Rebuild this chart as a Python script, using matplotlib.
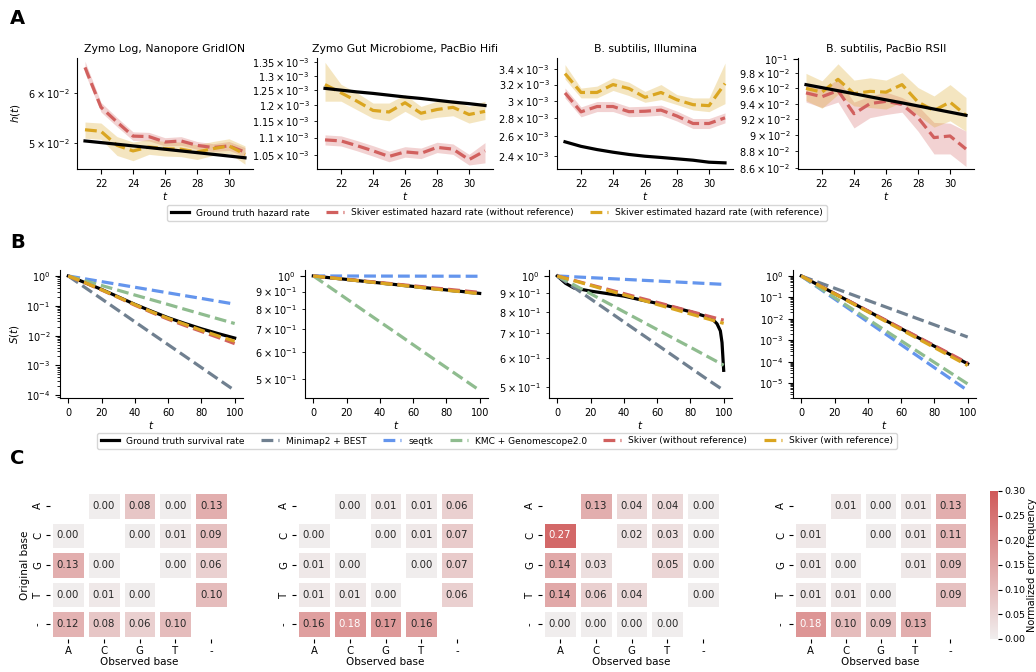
import numpy as np
import matplotlib
matplotlib.use("Agg")
import matplotlib.pyplot as plt
from matplotlib.colors import LinearSegmentedColormap, Normalize
from matplotlib.cm import ScalarMappable
import matplotlib.ticker as mticker

# ---------------- data: row A (hazard rates) ----------------
t_h = [21, 22, 23, 24, 25, 26, 27, 28, 29, 30, 31]
hazard_titles = ["Zymo Log, Nanopore GridION", "Zymo Gut Microbiome, PacBio Hifi",
                 "B. subtilis, Illumina", "B. subtilis, PacBio RSII"]

zlog_gt = [5.04e-2, 5.01e-2, 4.98e-2, 4.95e-2, 4.92e-2, 4.89e-2, 4.86e-2, 4.83e-2, 4.80e-2, 4.77e-2, 4.74e-2]
zlog_red = [6.59e-2, 5.70e-2, 5.40e-2, 5.13e-2, 5.12e-2, 5.02e-2, 5.04e-2, 4.96e-2, 4.92e-2, 4.95e-2, 4.84e-2]
zlog_red_lo = [6.45e-2, 5.60e-2, 5.31e-2, 5.05e-2, 5.04e-2, 4.95e-2, 4.96e-2, 4.89e-2, 4.85e-2, 4.87e-2, 4.76e-2]
zlog_red_hi = [6.74e-2, 5.80e-2, 5.49e-2, 5.21e-2, 5.20e-2, 5.10e-2, 5.12e-2, 5.03e-2, 4.99e-2, 5.03e-2, 4.92e-2]
zlog_yel = [5.25e-2, 5.22e-2, 4.96e-2, 4.86e-2, 4.93e-2, 4.90e-2, 4.89e-2, 4.84e-2, 4.90e-2, 4.95e-2, 4.80e-2]
zlog_yel_lo = [5.09e-2, 5.07e-2, 4.78e-2, 4.69e-2, 4.80e-2, 4.77e-2, 4.76e-2, 4.71e-2, 4.78e-2, 4.82e-2, 4.63e-2]
zlog_yel_hi = [5.40e-2, 5.38e-2, 5.12e-2, 5.02e-2, 5.07e-2, 5.03e-2, 5.02e-2, 4.97e-2, 5.03e-2, 5.08e-2, 4.95e-2]

zgut_gt = [1.257e-3, 1.251e-3, 1.245e-3, 1.240e-3, 1.234e-3, 1.228e-3, 1.223e-3, 1.217e-3, 1.211e-3, 1.206e-3, 1.200e-3]
zgut_red = [1.093e-3, 1.090e-3, 1.076e-3, 1.061e-3, 1.045e-3, 1.058e-3, 1.054e-3, 1.071e-3, 1.066e-3, 1.036e-3, 1.061e-3]
zgut_red_lo = [1.078e-3, 1.075e-3, 1.061e-3, 1.046e-3, 1.030e-3, 1.043e-3, 1.039e-3, 1.056e-3, 1.051e-3, 1.021e-3, 1.027e-3]
zgut_red_hi = [1.108e-3, 1.105e-3, 1.091e-3, 1.076e-3, 1.060e-3, 1.073e-3, 1.069e-3, 1.086e-3, 1.081e-3, 1.051e-3, 1.085e-3]
zgut_yel = [1.270e-3, 1.242e-3, 1.214e-3, 1.184e-3, 1.179e-3, 1.209e-3, 1.175e-3, 1.187e-3, 1.194e-3, 1.171e-3, 1.181e-3]
zgut_yel_lo = [1.214e-3, 1.214e-3, 1.186e-3, 1.159e-3, 1.151e-3, 1.181e-3, 1.153e-3, 1.162e-3, 1.167e-3, 1.144e-3, 1.155e-3]
zgut_yel_hi = [1.349e-3, 1.271e-3, 1.242e-3, 1.208e-3, 1.208e-3, 1.236e-3, 1.197e-3, 1.214e-3, 1.219e-3, 1.197e-3, 1.214e-3]

bsi_gt = [2.543e-3, 2.497e-3, 2.465e-3, 2.439e-3, 2.417e-3, 2.400e-3, 2.388e-3, 2.375e-3, 2.362e-3, 2.343e-3, 2.337e-3]
bsi_red = [3.094e-3, 2.868e-3, 2.930e-3, 2.930e-3, 2.870e-3, 2.875e-3, 2.888e-3, 2.820e-3, 2.737e-3, 2.737e-3, 2.800e-3]
bsi_red_lo = [3.032e-3, 2.811e-3, 2.871e-3, 2.871e-3, 2.813e-3, 2.818e-3, 2.830e-3, 2.764e-3, 2.682e-3, 2.682e-3, 2.744e-3]
bsi_red_hi = [3.156e-3, 2.925e-3, 2.989e-3, 2.989e-3, 2.927e-3, 2.933e-3, 2.946e-3, 2.876e-3, 2.792e-3, 2.792e-3, 2.856e-3]
bsi_yel = [3.344e-3, 3.100e-3, 3.100e-3, 3.200e-3, 3.149e-3, 3.040e-3, 3.100e-3, 3.010e-3, 2.952e-3, 2.940e-3, 3.213e-3]
bsi_yel_lo = [3.270e-3, 3.033e-3, 3.033e-3, 3.125e-3, 3.061e-3, 2.980e-3, 3.012e-3, 2.952e-3, 2.890e-3, 2.870e-3, 2.964e-3]
bsi_yel_hi = [3.467e-3, 3.155e-3, 3.180e-3, 3.288e-3, 3.230e-3, 3.113e-3, 3.200e-3, 3.073e-3, 3.033e-3, 3.033e-3, 3.488e-3]

bsp_gt = [9.649e-2, 9.609e-2, 9.569e-2, 9.529e-2, 9.489e-2, 9.449e-2, 9.410e-2, 9.370e-2, 9.330e-2, 9.290e-2, 9.250e-2]
bsp_red = [9.54e-2, 9.49e-2, 9.57e-2, 9.27e-2, 9.40e-2, 9.43e-2, 9.39e-2, 9.22e-2, 8.97e-2, 8.99e-2, 8.83e-2]
bsp_red_lo = [9.42e-2, 9.35e-2, 9.42e-2, 9.09e-2, 9.22e-2, 9.26e-2, 9.29e-2, 9.05e-2, 8.77e-2, 8.77e-2, 8.62e-2]
bsp_red_hi = [9.64e-2, 9.59e-2, 9.72e-2, 9.42e-2, 9.50e-2, 9.55e-2, 9.48e-2, 9.37e-2, 9.16e-2, 9.15e-2, 9.05e-2]
bsp_yel = [9.60e-2, 9.55e-2, 9.72e-2, 9.53e-2, 9.56e-2, 9.55e-2, 9.65e-2, 9.42e-2, 9.31e-2, 9.42e-2, 9.25e-2]
bsp_yel_lo = [9.44e-2, 9.34e-2, 9.52e-2, 9.37e-2, 9.35e-2, 9.33e-2, 9.42e-2, 9.25e-2, 9.10e-2, 9.18e-2, 9.05e-2]
bsp_yel_hi = [9.80e-2, 9.70e-2, 9.93e-2, 9.71e-2, 9.74e-2, 9.71e-2, 9.81e-2, 9.61e-2, 9.50e-2, 9.65e-2, 9.48e-2]

hazard_ylims = [(4.55e-2, 6.82e-2), (1.01e-3, 1.365e-3), (2.28e-3, 3.56e-3), (8.59e-2, 1.001e-1)]

# ---------------- data: row B (survival) ----------------
t_s = [0, 10, 20, 30, 40, 50, 60, 70, 80, 90, 100]

s1_gt = [1, 0.603, 0.355, 0.200, 0.112, 0.066, 0.0398, 0.0257, 0.0170, 0.0117, 0.0083]
s1_minimap = [1, 0.413, 0.171, 0.0705, 0.0291, 0.0120, 4.98e-3, 2.06e-3, 8.5e-4, 3.5e-4, 1.45e-4]
s1_seqtk = [1, 0.805, 0.648, 0.522, 0.420, 0.338, 0.272, 0.219, 0.177, 0.142, 0.114]
s1_kmc = [1, 0.693, 0.480, 0.333, 0.230, 0.160, 0.111, 0.0765, 0.053, 0.0367, 0.0255]
s1_red = [1, 0.589, 0.339, 0.191, 0.105, 0.0603, 0.0355, 0.0219, 0.0138, 0.0087, 0.0054]
s1_yel = [1, 0.603, 0.347, 0.195, 0.110, 0.0631, 0.038, 0.024, 0.0151, 0.0098, 0.0065]

s2_gt = [1, 0.988, 0.977, 0.965, 0.954, 0.943, 0.932, 0.921, 0.910, 0.900, 0.889]
s2_minimap = [1, 0.988, 0.976, 0.965, 0.953, 0.942, 0.931, 0.920, 0.909, 0.898, 0.888]
s2_seqtk = [1, 0.9998, 0.9996, 0.9994, 0.9992, 0.999, 0.9988, 0.9986, 0.9984, 0.9982, 0.998]
s2_kmc = [1, 0.926, 0.857, 0.793, 0.734, 0.680, 0.629, 0.582, 0.539, 0.499, 0.462]
s2_red = [1, 0.989, 0.978, 0.967, 0.957, 0.946, 0.936, 0.925, 0.915, 0.905, 0.895]
s2_yel = [1, 0.988, 0.976, 0.965, 0.953, 0.942, 0.931, 0.919, 0.908, 0.898, 0.887]

t_s3_gt = [0, 5, 10, 20, 30, 40, 50, 60, 70, 80, 90, 94, 96, 98, 99, 100]
s3_gt = [1, 0.955, 0.928, 0.91, 0.896, 0.882, 0.862, 0.843, 0.822, 0.80, 0.775, 0.758, 0.742, 0.71, 0.66, 0.555]
s3_minimap = [1, 0.931, 0.867, 0.807, 0.751, 0.699, 0.651, 0.606, 0.564, 0.525, 0.49]
s3_seqtk = [1, 0.9948, 0.9896, 0.9844, 0.9793, 0.9742, 0.9691, 0.964, 0.959, 0.954, 0.949]
s3_kmc = [1, 0.946, 0.895, 0.846, 0.800, 0.757, 0.716, 0.677, 0.641, 0.606, 0.573]
s3_red = [1, 0.973, 0.946, 0.921, 0.896, 0.871, 0.848, 0.825, 0.802, 0.780, 0.759]
s3_yel = [1, 0.971, 0.943, 0.915, 0.889, 0.863, 0.837, 0.813, 0.789, 0.766, 0.744]

s4_gt = [1, 0.389, 0.151, 0.0589, 0.0229, 8.91e-3, 3.47e-3, 1.35e-3, 5.25e-4, 2.04e-4, 7.94e-5]
s4_minimap = [1, 0.519, 0.269, 0.140, 0.0724, 0.0376, 0.0195, 0.0101, 5.25e-3, 2.72e-3, 1.41e-3]
s4_seqtk = [1, 0.292, 0.0851, 0.0248, 7.24e-3, 2.11e-3, 6.17e-4, 1.8e-4, 5.25e-5, 1.53e-5, 4.47e-6]
s4_kmc = [1, 0.313, 0.098, 0.0307, 9.6e-3, 3.0e-3, 9.4e-4, 2.95e-4, 9.2e-5, 2.9e-5, 9.1e-6]
s4_red = [1, 0.392, 0.154, 0.0603, 0.0237, 9.29e-3, 3.63e-3, 1.43e-3, 5.6e-4, 2.2e-4, 8.5e-5]
s4_yel = [1, 0.382, 0.146, 0.0557, 0.0213, 8.13e-3, 3.11e-3, 1.19e-3, 4.53e-4, 1.73e-4, 6.6e-5]

surv_ylims = [(8.1e-5, 1.59), (0.439, 1.041), (0.467, 1.038), (2.0e-6, 1.91)]

# ---------------- data: row C (error matrices) ----------------
bases = ["A", "C", "G", "T", "-"]
nan = np.nan
err_zymo_log = [[nan, 0.00, 0.08, 0.00, 0.13],
                [0.00, nan, 0.00, 0.01, 0.09],
                [0.13, 0.00, nan, 0.00, 0.06],
                [0.00, 0.01, 0.00, nan, 0.10],
                [0.12, 0.08, 0.06, 0.10, nan]]
err_zymo_gut = [[nan, 0.00, 0.01, 0.01, 0.06],
                [0.00, nan, 0.00, 0.01, 0.07],
                [0.01, 0.00, nan, 0.00, 0.07],
                [0.01, 0.01, 0.00, nan, 0.06],
                [0.16, 0.18, 0.17, 0.16, nan]]
err_bs_illumina = [[nan, 0.13, 0.04, 0.04, 0.00],
                   [0.27, nan, 0.02, 0.03, 0.00],
                   [0.14, 0.03, nan, 0.05, 0.00],
                   [0.14, 0.06, 0.04, nan, 0.00],
                   [0.00, 0.00, 0.00, 0.00, nan]]
err_bs_pacbio = [[nan, 0.01, 0.00, 0.01, 0.13],
                 [0.01, nan, 0.00, 0.01, 0.11],
                 [0.01, 0.00, nan, 0.01, 0.09],
                 [0.01, 0.01, 0.00, nan, 0.09],
                 [0.18, 0.10, 0.09, 0.13, nan]]

# ---------------- styling ----------------
C_GT = "black"
C_RED = "#d1605e"
C_YEL = "#daa520"
C_GREY = "#708090"
C_BLUE = "#6495ed"
C_GREEN = "#8fbc8f"
LW = 2.3
TICK_FS = 7
LAB_FS = 7.5

W, H = 1036, 672
fig = plt.figure(figsize=(W / 100, H / 100), dpi=100)


def ax_px(l, t, w, h):
    return fig.add_axes([l / W, 1 - (t + h) / H, w / W, h / H])


def despine(ax):
    ax.spines["top"].set_visible(False)
    ax.spines["right"].set_visible(False)


# ---------- Row A ----------
hazard_sets = [
    (zlog_gt, zlog_red, zlog_red_lo, zlog_red_hi, zlog_yel, zlog_yel_lo, zlog_yel_hi),
    (zgut_gt, zgut_red, zgut_red_lo, zgut_red_hi, zgut_yel, zgut_yel_lo, zgut_yel_hi),
    (bsi_gt, bsi_red, bsi_red_lo, bsi_red_hi, bsi_yel, bsi_yel_lo, bsi_yel_hi),
    (bsp_gt, bsp_red, bsp_red_lo, bsp_red_hi, bsp_yel, bsp_yel_lo, bsp_yel_hi),
]
a_lefts = [77, 317, 557, 798]
handlesA = None
for i, (gt, rd, rlo, rhi, yl, ylo, yhi) in enumerate(hazard_sets):
    ax = ax_px(a_lefts[i], 58, 176, 111)
    ax.fill_between(t_h, rlo, rhi, color=C_RED, alpha=0.28, lw=0)
    ax.fill_between(t_h, ylo, yhi, color=C_YEL, alpha=0.28, lw=0)
    l_r, = ax.plot(t_h, rd, "--", color=C_RED, lw=LW,
                   label="Skiver estimated hazard rate (without reference)")
    l_y, = ax.plot(t_h, yl, "--", color=C_YEL, lw=LW,
                   label="Skiver estimated hazard rate (with reference)")
    l_g, = ax.plot(t_h, gt, "-", color=C_GT, lw=LW, label="Ground truth hazard rate", zorder=3)
    ax.set_yscale("log")
    ax.set_ylim(*hazard_ylims[i])
    ax.set_xticks([22, 24, 26, 28, 30])
    ax.tick_params(labelsize=TICK_FS, which="both")
    ax.set_title(hazard_titles[i], fontsize=7.8, pad=4)
    ax.set_xlabel("$t$", fontsize=LAB_FS, labelpad=1)
    if i == 0:
        ax.set_ylabel("$h(t)$", fontsize=LAB_FS)
    despine(ax)
    handlesA = [l_g, l_r, l_y]

fig.legend(handles=handlesA, loc="center", bbox_to_anchor=(497 / W, 1 - 213 / H),
           ncol=3, fontsize=6.5, frameon=True, handlelength=2.0, columnspacing=1.8,
           borderpad=0.4)

# ---------- Row B ----------
surv_sets = [
    (t_s, s1_gt, s1_minimap, s1_seqtk, s1_kmc, s1_red, s1_yel),
    (t_s, s2_gt, s2_minimap, s2_seqtk, s2_kmc, s2_red, s2_yel),
    (t_s3_gt, s3_gt, s3_minimap, s3_seqtk, s3_kmc, s3_red, s3_yel),
    (t_s, s4_gt, s4_minimap, s4_seqtk, s4_kmc, s4_red, s4_yel),
]
b_lefts = [60, 305, 549, 793]
handlesB = None
for i, (tg, gt, mm, sq, km, rd, yl) in enumerate(surv_sets):
    ax = ax_px(b_lefts[i], 270, 183, 128)
    h0, = ax.plot(tg, gt, "-", color=C_GT, lw=LW, label="Ground truth survival rate")
    h1, = ax.plot(t_s, mm, "--", color=C_GREY, lw=LW, label="Minimap2 + BEST")
    h2, = ax.plot(t_s, sq, "--", color=C_BLUE, lw=LW, label="seqtk")
    h3, = ax.plot(t_s, km, "--", color=C_GREEN, lw=LW, label="KMC + Genomescope2.0")
    h4, = ax.plot(t_s, rd, "--", color=C_RED, lw=LW, label="Skiver (without reference)")
    h5, = ax.plot(t_s, yl, "--", color=C_YEL, lw=LW, label="Skiver (with reference)")
    ax.set_yscale("log")
    ax.set_ylim(*surv_ylims[i])
    ax.set_xticks([0, 20, 40, 60, 80, 100])
    ax.tick_params(labelsize=TICK_FS, which="both")
    ax.set_xlabel("$t$", fontsize=LAB_FS, labelpad=1)
    if i == 0:
        ax.set_ylabel("$S(t)$", fontsize=LAB_FS)
    despine(ax)
    handlesB = [h0, h1, h2, h3, h4, h5]

fig.legend(handles=handlesB, loc="center", bbox_to_anchor=(497 / W, 1 - 441 / H),
           ncol=6, fontsize=6.5, frameon=True, handlelength=2.0, columnspacing=1.8,
           borderpad=0.4)

# ---------- Row C ----------
cmap = LinearSegmentedColormap.from_list("err", ["#f0eded", "#d05a5a"])
norm = Normalize(vmin=0, vmax=0.30)
err_sets = [err_zymo_log, err_zymo_gut, err_bs_illumina, err_bs_pacbio]
c_lefts = [50, 296, 542, 793]
c_widths = [179, 179, 179, 175]
for k, mat in enumerate(err_sets):
    ax = ax_px(c_lefts[k], 491, c_widths[k], 148)
    m = np.ma.masked_invalid(np.array(mat, dtype=float))
    ax.pcolormesh(np.arange(6), np.arange(6), m, cmap=cmap, norm=norm,
                  edgecolors="white", linewidth=2.2)
    ax.set_xlim(0, 5)
    ax.set_ylim(5, 0)
    for r in range(5):
        for c in range(5):
            v = mat[r][c]
            if not np.isnan(v):
                col = "white" if v >= 0.175 else "#262626"
                ax.text(c + 0.5, r + 0.5, f"{v:.2f}", ha="center", va="center",
                        fontsize=7.3, color=col)
    ax.set_xticks(np.arange(5) + 0.5)
    ax.set_xticklabels(bases)
    ax.set_yticks(np.arange(5) + 0.5)
    ax.set_yticklabels(bases, rotation=90, va="center")
    ax.tick_params(labelsize=TICK_FS + 0.3, length=3, pad=2)
    for s in ax.spines.values():
        s.set_visible(False)
    ax.set_xlabel("Observed base", fontsize=LAB_FS, labelpad=1)
    if k == 0:
        ax.set_ylabel("Original base", fontsize=LAB_FS, labelpad=2)

cax = ax_px(990, 491, 8, 148)
cb = fig.colorbar(ScalarMappable(norm=norm, cmap=cmap), cax=cax)
cb.outline.set_visible(False)
cb.set_ticks([0, 0.05, 0.10, 0.15, 0.20, 0.25, 0.30])
cb.ax.yaxis.set_major_formatter(mticker.FormatStrFormatter("%.2f"))
cb.ax.tick_params(labelsize=6.8, length=3, pad=1.5)
cb.set_label("Normalized error frequency", fontsize=7, labelpad=1)

# ---------- panel letters ----------
for letter, y in [("A", 18), ("B", 243), ("C", 458)]:
    fig.text(10 / W, 1 - y / H, letter, fontsize=14, fontweight="bold", va="center", ha="left")

fig.savefig("out.png", dpi=100)
